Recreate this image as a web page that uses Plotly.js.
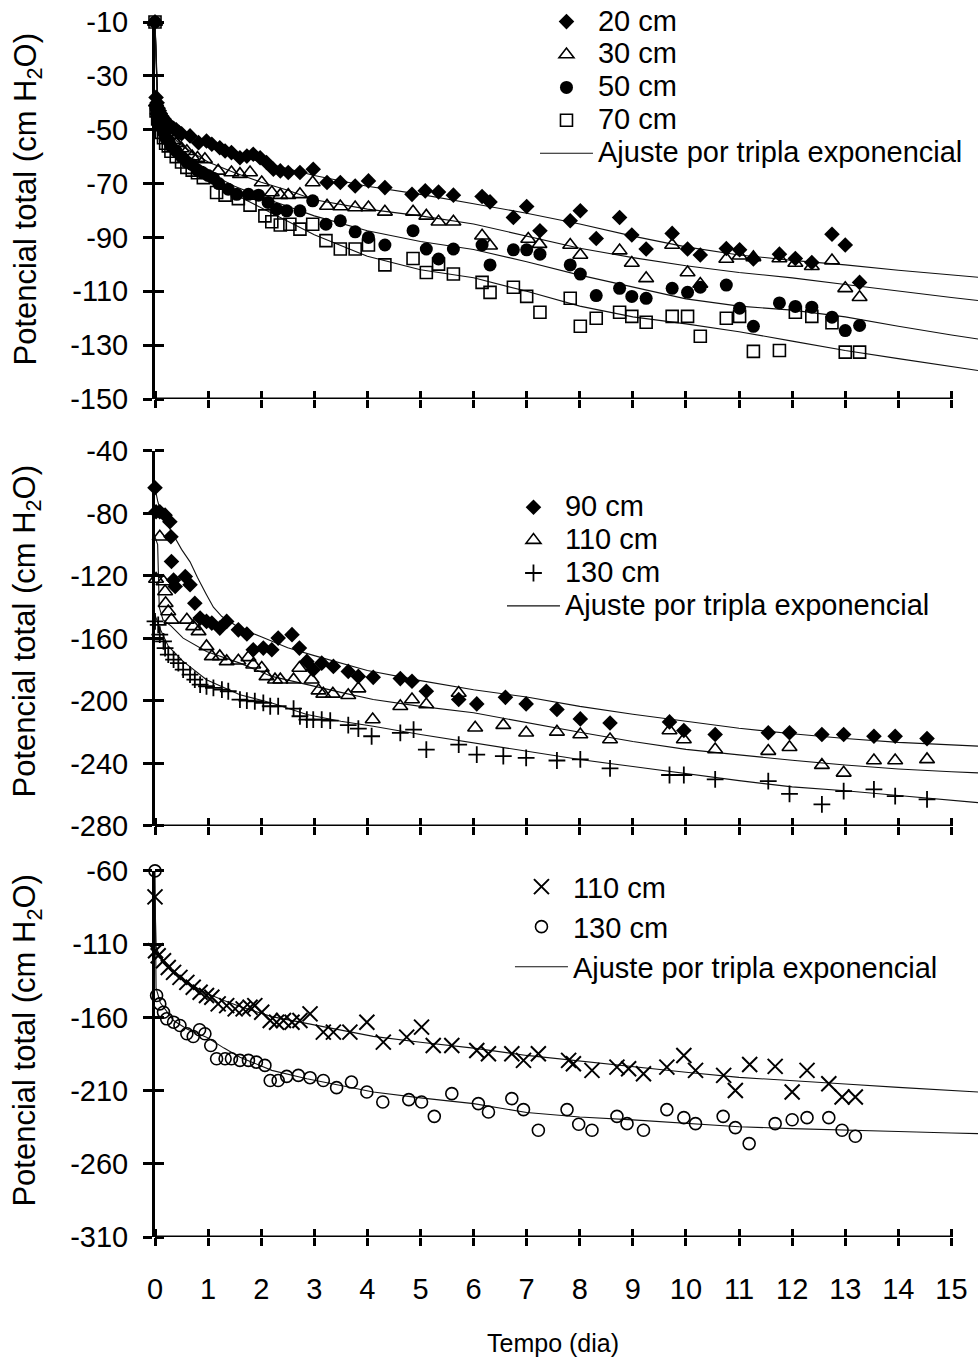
<!DOCTYPE html>
<html><head><meta charset="utf-8">
<script src="https://cdn.plot.ly/plotly-3.0.1.min.js"></script>
<style>html,body{margin:0;padding:0;background:#fff}#chart{width:978px;height:1359px}</style>
</head><body><div id="chart"></div>
<script>
// ---------- DATA ----------
const xTickVals = [0,1,2,3,4,5,6,7,8,9,10,11,12,13,14,15];
const yTicksTop = [-10,-30,-50,-70,-90,-110,-130,-150];
const yTicksMid = [-40,-80,-120,-160,-200,-240,-280];
const yTicksBot = [-60,-110,-160,-210,-260,-310];

const namesTop = ['20 cm','30 cm','50 cm','70 cm'];
const namesMid = ['90 cm','110 cm','130 cm'];
const namesBot = ['110 cm','130 cm'];
const fitName = 'Ajuste por tripla exponencial';

// Top panel
const d20 = [0,0.02,0.04,0.06,0.08,0.1,0.13,0.17,0.21,0.25,0.3,0.35,0.4,0.45,0.5,0.66,0.82,0.97,1.07,1.22,1.32,1.44,1.60,1.73,1.85,1.98,2.10,2.23,2.36,2.51,2.73,2.98,3.24,3.49,3.77,4.02,4.33,4.84,5.09,5.34,5.62,6.16,6.31,6.75,7.00,7.25,7.82,8.01,8.31,8.75,8.98,9.25,9.74,10.03,10.27,10.76,11.01,11.27,11.76,12.06,12.37,12.75,13.00,13.27];
const p20 = [-10,-38,-40,-42,-43,-44,-45,-46,-47,-48,-49,-49.5,-50,-51,-51.5,-52.3,-54.8,-54.2,-55.4,-56.7,-57.9,-58.5,-60.4,-59.8,-59.1,-60.4,-62.2,-64.7,-65.3,-65.9,-65.9,-64.7,-69.6,-69.6,-70.9,-69.0,-71.5,-74.0,-72.7,-73.1,-74.3,-74.8,-76.8,-82.6,-78.5,-87.5,-83.8,-80.1,-90.4,-82.6,-89.1,-94.3,-88.5,-94.3,-96.5,-94.1,-94.6,-98.0,-96.2,-97.8,-99.3,-88.8,-92.8,-106.7];
const d30 = [0,0.02,0.05,0.08,0.12,0.16,0.2,0.25,0.3,0.35,0.4,0.5,0.6,0.7,0.8,0.94,1.19,1.44,1.60,1.79,2.01,2.20,2.36,2.51,2.73,2.97,3.24,3.49,3.77,4.02,4.33,4.86,5.11,5.34,5.62,6.16,6.31,7.03,7.24,7.82,8.01,8.75,8.98,9.25,9.74,10.03,10.27,10.76,11.01,11.27,11.76,12.06,12.37,12.75,13.00,13.27];
const p30 = [-10,-40,-43,-45,-47,-48,-50,-51,-52,-54,-55,-57,-58,-60,-60.5,-61.0,-65.3,-65.9,-66.5,-65.9,-69.6,-73.3,-74.3,-74.3,-74.0,-69.6,-78.3,-78.5,-78.9,-78.9,-80.5,-80.5,-82.0,-84.2,-84.2,-89.4,-93.1,-90.6,-92.5,-92.8,-96.5,-94.9,-99.5,-105.2,-92.8,-103.0,-107.3,-98.0,-96.8,-97.4,-97.8,-99.5,-100.7,-98.6,-108.9,-112.2];
const d50 = [0,0.02,0.05,0.08,0.12,0.16,0.2,0.25,0.3,0.4,0.5,0.6,0.7,0.8,0.9,1.0,1.1,1.2,1.38,1.54,1.76,1.95,2.13,2.29,2.48,2.73,2.97,3.22,3.49,3.77,4.02,4.33,4.86,5.11,5.34,5.62,6.16,6.31,6.75,7.00,7.25,7.82,8.01,8.31,8.75,8.98,9.25,9.74,10.03,10.27,10.76,11.01,11.27,11.76,12.06,12.37,12.75,13.00,13.27];
const p50 = [-10,-42,-45,-47,-49,-51,-53,-54,-56,-58,-60,-62,-63,-65,-66,-67,-68,-70,-72.1,-74.0,-74.0,-74.3,-77.0,-79.5,-80.1,-80.1,-76.4,-85.1,-83.8,-87.9,-90.0,-92.8,-87.5,-94.3,-98.0,-94.3,-92.8,-100.2,-94.6,-94.6,-96.2,-100.2,-103.6,-111.6,-108.9,-111.9,-112.6,-108.9,-110.4,-108.5,-107.7,-116.3,-123.0,-114.3,-115.6,-115.9,-119.6,-124.6,-122.7];
const d70 = [0,0.02,0.05,0.08,0.12,0.16,0.2,0.25,0.3,0.4,0.5,0.6,0.7,0.8,0.91,1.16,1.32,1.57,1.79,2.07,2.20,2.36,2.54,2.73,2.97,3.22,3.49,3.77,4.02,4.33,4.86,5.11,5.34,5.62,6.16,6.31,6.75,7.00,7.25,7.82,8.01,8.31,8.75,8.98,9.25,9.74,10.03,10.27,10.76,11.01,11.27,11.76,12.06,12.37,12.75,13.00,13.27];
const p70 = [-10,-43,-46,-48,-51,-53,-55,-56,-58,-60,-62,-64,-65,-66,-67.8,-73.3,-74.3,-75.6,-78.0,-82.0,-84.2,-85.4,-85.1,-86.9,-85.1,-91.2,-94.3,-94.3,-92.8,-100.2,-97.8,-103.0,-99.9,-103.6,-106.7,-110.4,-108.5,-111.9,-117.8,-112.6,-123.0,-120.0,-117.8,-119.3,-121.5,-119.3,-119.3,-126.7,-120.0,-119.3,-132.3,-132.0,-117.8,-119.3,-121.7,-132.6,-132.6];

const fitTopDays = [0,0.05,0.15,0.3,0.5,0.75,1,1.5,2,2.5,3,4,5,6,7,8,9,10,11,12,13,14,15,15.5];
const fit20 = [-10,-37,-44,-48,-51,-53.5,-55.5,-59,-62,-64.5,-67,-71,-74,-77.5,-81,-85,-89.5,-93.5,-96.5,-98.5,-100.2,-102.2,-104,-104.8];
const fit30 = [-10,-40,-47,-52,-56,-59,-62,-66,-69.5,-72.5,-76,-79.5,-82,-85,-89.5,-94,-97.5,-100.5,-103,-105,-107.5,-110,-112.3,-113.4];
const fit50 = [-10,-42,-49,-54,-59,-63,-66,-71,-75,-78.5,-82,-87.5,-91.5,-94.5,-99,-104,-108.5,-112.8,-115.5,-117,-119.5,-123,-126.2,-127.7];
const fit70 = [-10,-43,-50,-55,-60,-64,-68,-74,-79,-84,-89,-97,-102,-105,-110,-115.5,-119.5,-122.1,-125,-128.5,-132,-135,-138,-139.4];

// Middle panel
const d90 = [0,0.02,0.09,0.19,0.28,0.3,0.31,0.35,0.38,0.57,0.66,0.75,0.85,0.97,1.07,1.22,1.35,1.57,1.73,1.85,2.04,2.20,2.32,2.58,2.72,2.86,2.98,3.14,3.36,3.64,3.83,4.11,4.62,4.84,5.11,5.72,6.06,6.60,6.99,7.57,8.01,8.57,9.69,9.96,10.55,11.55,11.95,12.56,12.97,13.54,13.94,14.54];
const p90 = [-63.6,-78.9,-78.9,-81.1,-85.3,-94.9,-110.8,-122.6,-126.8,-120.4,-125.7,-137.5,-147.0,-149.1,-150.2,-153.4,-149.1,-154.5,-157.2,-167.2,-166.2,-167.2,-159.8,-157.6,-166.2,-174.7,-180.0,-175.8,-177.9,-181.1,-184.3,-184.9,-185.7,-187.4,-193.8,-199.1,-201.9,-197.7,-201.9,-205.5,-211.5,-214.1,-213.4,-218.9,-221.5,-220.4,-220.4,-221.5,-221.5,-222.6,-222.6,-224.1];
const d110m = [0.02,0.09,0.16,0.19,0.2,0.25,0.31,0.60,0.72,0.82,0.97,1.07,1.22,1.35,1.57,1.76,1.85,2.01,2.10,2.26,2.36,2.61,2.72,2.95,3.08,3.17,3.35,3.64,3.83,4.10,4.62,4.84,5.11,5.72,6.03,6.56,6.99,7.57,8.01,8.57,9.69,9.96,10.55,11.55,11.95,12.56,12.97,13.54,13.94,14.54];
const p110m = [-122,-94.9,-123.6,-130.0,-137.5,-142.8,-148.1,-148.1,-152.3,-155.5,-165.1,-171.5,-171.5,-174.7,-174.3,-172.1,-176.8,-178.9,-184.3,-186.4,-186.4,-186.4,-178.9,-186.4,-193.4,-195.5,-195.5,-196.4,-192.1,-211.9,-203.4,-199.1,-202.3,-194.9,-217.2,-215.5,-220.4,-219.8,-221.5,-224.7,-218.9,-224.7,-231.1,-232.1,-229.6,-241.1,-246.0,-238.1,-238.1,-237.4];
const d130m = [0,0.06,0.09,0.16,0.19,0.25,0.35,0.44,0.53,0.66,0.75,0.85,0.97,1.10,1.26,1.38,1.60,1.73,1.88,2.04,2.17,2.32,2.61,2.73,2.86,2.98,3.14,3.30,3.64,3.83,4.08,4.62,4.87,5.11,5.72,6.06,6.56,6.99,7.57,8.01,8.57,9.69,9.96,10.55,11.55,11.95,12.56,12.97,13.54,13.94,14.54];
const p130m = [-149.1,-151.3,-157.6,-161.9,-166.2,-170.4,-173.6,-175.8,-180.0,-183.2,-186.4,-189.6,-190.6,-191.7,-192.8,-193.8,-199.1,-199.8,-200.2,-201.3,-203.4,-203.4,-204.9,-209.8,-211.9,-211.9,-211.9,-212.6,-215.5,-217.7,-222.6,-220.4,-218.3,-231.1,-227.9,-234.3,-235.3,-236.4,-238.1,-237.4,-243.2,-247.4,-247.4,-250.2,-251.3,-259.4,-266.2,-257.7,-256.6,-260.9,-263.0];

const fit90Days = [0,0.05,0.1,0.2,0.35,0.5,0.66,0.8,0.97,1.1,1.26,1.6,2,2.5,3,4,5,6,7,8,9,10,11,12,13,14,15,15.5];
const fit90 = [-63.6,-72,-78,-85,-94,-103,-111,-121,-132,-140,-146,-153.5,-159,-166,-171,-180.5,-187,-192.8,-197.5,-203.5,-208.5,-213,-217.5,-221,-224,-226.5,-228.3,-228.9];
const fit110mDays = [0,0.05,0.08,0.15,0.3,0.53,0.97,1.6,2.2,2.86,3.5,4.11,5,6,7,8,9,10,11,12,13,14,15,15.5];
const fit110m = [-95,-100,-140,-148,-152,-159.8,-168.3,-175.8,-184.3,-189.6,-194.5,-199.1,-203.5,-207.6,-214,-220,-226,-231,-234.5,-238,-241,-243.5,-245.3,-246];
const fit130mDays = [0,0.09,0.25,0.53,0.97,1.6,2.2,2.86,3.5,4.11,5,6,7,8,9,10,11,12,13,14,15,15.5];
const fit130m = [-145,-153.4,-165,-174.7,-186.4,-196,-201.3,-208.7,-213,-216.2,-221.5,-226.8,-232.5,-237.5,-242,-246.5,-251,-255,-257.5,-260.5,-263.5,-265.1];

// Bottom panel
const d110b = [0,0.01,0.06,0.16,0.25,0.35,0.47,0.60,0.72,0.85,0.97,1.07,1.19,1.35,1.51,1.66,1.79,1.88,2.01,2.17,2.29,2.42,2.58,2.73,2.92,3.17,3.36,3.67,3.99,4.30,4.74,5.02,5.24,5.59,6.06,6.28,6.72,6.94,7.22,7.79,7.88,8.23,8.70,8.92,9.20,9.64,9.96,10.18,10.71,10.93,11.20,11.68,12.00,12.28,12.69,12.94,13.19];
const p110b = [-77.7,-114.5,-117.9,-121.3,-125.9,-129.3,-132.7,-136.1,-139.5,-142.9,-145.1,-146.3,-150.8,-152.0,-154.2,-154.2,-153.1,-152.0,-156.5,-162.2,-163.3,-162.2,-163.3,-162.2,-157.6,-170.1,-170.1,-170.1,-163.3,-176.9,-173.5,-166.7,-179.2,-179.2,-182.6,-184.9,-184.9,-189.4,-184.9,-189.4,-191.7,-196.2,-194.0,-195.1,-198.5,-194.0,-186.0,-196.2,-199.6,-209.9,-192.2,-193.5,-211.0,-196.2,-205.3,-214.4,-214.4];
const d130b = [0,0.03,0.09,0.16,0.22,0.35,0.47,0.60,0.72,0.84,0.94,1.05,1.16,1.32,1.44,1.60,1.76,1.91,2.07,2.17,2.32,2.48,2.70,2.92,3.17,3.42,3.70,3.99,4.29,4.78,5.02,5.26,5.59,6.09,6.28,6.72,6.94,7.22,7.76,7.98,8.23,8.70,8.89,9.20,9.64,9.96,10.18,10.70,10.93,11.19,11.68,12.00,12.28,12.69,12.94,13.19];
const p130b = [-60,-145.1,-150.8,-156.5,-161.0,-163.3,-165.6,-171.2,-173.1,-168.5,-171.2,-179.2,-188.3,-188.3,-188.3,-189.4,-189.4,-190.6,-192.8,-203.1,-203.1,-200.3,-199.6,-201.2,-203.1,-208.0,-204.2,-211.0,-217.8,-216.2,-217.8,-227.6,-212.1,-218.9,-224.6,-215.5,-223.0,-237.1,-223.0,-233.0,-237.1,-227.6,-232.6,-237.1,-223.0,-228.5,-232.6,-227.6,-235.3,-246.2,-232.6,-229.9,-228.5,-228.5,-237.1,-241.2];

const fitBotDays = [0,0.02,0.1,0.35,0.6,0.97,1.3,1.6,2.2,2.86,3.5,4.11,5,6,7,8,9,10,11,12,13,14,15,15.5];
const fit110b = [-78,-112,-119,-128,-136,-143.5,-148.5,-152.6,-159.5,-164,-168.5,-173,-177,-181,-186,-190,-193.5,-197.5,-201,-203,-205.5,-207.8,-210,-211];
const fit130b = [-60,-140,-150,-162.2,-168,-173.5,-181,-187.2,-196.2,-201.9,-206.5,-211,-215,-218.9,-225,-228,-230,-232.5,-234.7,-236,-237.2,-238,-239,-239.4];

// ---------- STYLE ----------
const FONT = 'Liberation Sans, Arial, Helvetica, sans-serif';
const BLACK = '#000';
const LEGTXT = s => '<span style="font-size:29px">' + s + '</span>';

function pts(x, y, name, sym, size, xa, ya, leg, rank, lw) {
  return {type:'scatter', mode:'markers', x:x, y:y, name:LEGTXT(name), xaxis:xa, yaxis:ya,
    legend:leg, legendrank:rank, cliponaxis:false,
    marker:{symbol:sym, size:size, color:BLACK, line:{color:BLACK, width:lw||0}}};
}
function fit(x, y, xa, ya, leg, show) {
  return {type:'scatter', mode:'lines', x:x, y:y, name:LEGTXT(fitName), xaxis:xa, yaxis:ya,
    legend:leg, legendrank:10, showlegend:show, cliponaxis:false,
    line:{color:'#111', width:1.1}};
}

const traces = [
  fit(fitTopDays, fit20, 'x','y','legend', true),
  fit(fitTopDays, fit30, 'x','y','legend', false),
  fit(fitTopDays, fit50, 'x','y','legend', false),
  fit(fitTopDays, fit70, 'x','y','legend', false),
  pts(d20, p20, namesTop[0], 'diamond', 12, 'x','y','legend',1),
  pts(d30, p30, namesTop[1], 'triangle-up-open', 13, 'x','y','legend',2,1.6),
  pts(d50, p50, namesTop[2], 'circle', 13, 'x','y','legend',3),
  pts(d70, p70, namesTop[3], 'square-open', 12, 'x','y','legend',4,1.6),

  fit(fit90Days, fit90, 'x2','y2','legend2', true),
  fit(fit110mDays, fit110m, 'x2','y2','legend2', false),
  fit(fit130mDays, fit130m, 'x2','y2','legend2', false),
  pts(d90, p90, namesMid[0], 'diamond', 12, 'x2','y2','legend2',1),
  pts(d110m, p110m, namesMid[1], 'triangle-up-open', 13, 'x2','y2','legend2',2,1.6),
  pts(d130m, p130m, namesMid[2], 'cross-thin-open', 12, 'x2','y2','legend2',3,1.8),

  fit(fitBotDays, fit110b, 'x3','y3','legend3', true),
  fit(fitBotDays, fit130b, 'x3','y3','legend3', false),
  pts(d110b, p110b, namesBot[0], 'x-thin-open', 15, 'x3','y3','legend3',1,2),
  pts(d130b, p130b, namesBot[1], 'circle-open', 12, 'x3','y3','legend3',2,1.6)
];

const xRange = [0, 15.5];
const tickFont = {family:FONT, size:29, color:BLACK};
const EPS = 1e-7;

// major ticks outside + minor ticks (same places) inside => ticks crossing the axis line
function xAxis(anchor, labels) {
  return {anchor:anchor, domain:[0,1], range:xRange, tickmode:'array', tickvals:xTickVals,
    ticktext:xTickVals.map(String), ticks:'outside', ticklen:8, tickwidth:3,
    tickcolor:BLACK, showline:false, showgrid:false, zeroline:false,
    minor:{tickmode:'array', tickvals:xTickVals.map(v => v + EPS), ticks:'inside', ticklen:8, tickwidth:3, tickcolor:BLACK, showgrid:false},
    showticklabels: labels, tickfont:tickFont, ticklabelstandoff:18, fixedrange:true};
}
function yAxis(domain, ticks, anchor) {
  return {domain:domain, anchor:anchor, range:[ticks[ticks.length-1], ticks[0]], tickmode:'array',
    tickvals:ticks, ticktext:ticks.map(String), ticks:'outside', ticklen:9,
    tickwidth:3, tickcolor:BLACK, showline:true, linewidth:3, linecolor:BLACK,
    minor:{tickmode:'array', tickvals:ticks.map(v => v - EPS), ticks:'inside', ticklen:9, tickwidth:3, tickcolor:BLACK, showgrid:false},
    showgrid:false, zeroline:false, showticklabels:true, tickfont:tickFont,
    ticklabelstandoff:9, fixedrange:true};
}

const domTop = [0.6897, 1], domMid = [0.3383, 0.6470], domBot = [0, 0.3013];

function axisLine(xa, ya, yv) {
  return {type:'line', xref:xa, yref:ya, x0:xTickVals[0], x1:xTickVals[xTickVals.length-1],
    y0:yv, y1:yv, line:{color:BLACK, width:3}, layer:'above'};
}

const yTitle = 'Potencial total (cm H<sub>2</sub>O)';
function yTitleAnn(y) {
  return {text:yTitle, xref:'paper', yref:'paper', x:-0.1555, y:y, xanchor:'center', yanchor:'middle',
    textangle:-90, showarrow:false, font:{family:FONT, size:31, color:BLACK}};
}

const legBase = {xanchor:'left', yanchor:'top', bgcolor:'rgba(0,0,0,0)', borderwidth:0,
  itemwidth:53, traceorder:'normal', itemclick:false, itemdoubleclick:false};

const layout = {
  width:978, height:1359, margin:{l:155, r:0, t:19, b:122},
  paper_bgcolor:'#fff', plot_bgcolor:'#fff', font:{family:FONT, color:BLACK},
  showlegend:true,
  xaxis: xAxis('y', false), yaxis: yAxis(domTop, yTicksTop, 'x'),
  xaxis2: xAxis('y2', false), yaxis2: yAxis(domMid, yTicksMid, 'x2'),
  xaxis3: xAxis('y3', true), yaxis3: yAxis(domBot, yTicksBot, 'x3'),
  legend: Object.assign({}, legBase, {x:0.4617, y:1.018, font:{family:FONT, size:23, color:BLACK}}),
  legend2: Object.assign({}, legBase, {x:0.4216, y:0.6183, font:{family:FONT, size:23, color:BLACK}}),
  legend3: Object.assign({}, legBase, {x:0.4313, y:0.3090, font:{family:FONT, size:28.5, color:BLACK}}),
  shapes: [axisLine('x','y',yTicksTop[yTicksTop.length-1]), axisLine('x2','y2',yTicksMid[yTicksMid.length-1]),
           axisLine('x3','y3',yTicksBot[yTicksBot.length-1])],
  annotations: [yTitleAnn(0.8539), yTitleAnn(0.4984), yTitleAnn(0.1617),
    {text:'Tempo (dia)', xref:'paper', yref:'paper', x:0.4836, y:-0.087, xanchor:'center', yanchor:'middle',
     showarrow:false, font:{family:FONT, size:25, color:BLACK}}]
};

Plotly.newPlot('chart', traces, layout, {displayModeBar:false, staticPlot:true});
</script></body></html>
